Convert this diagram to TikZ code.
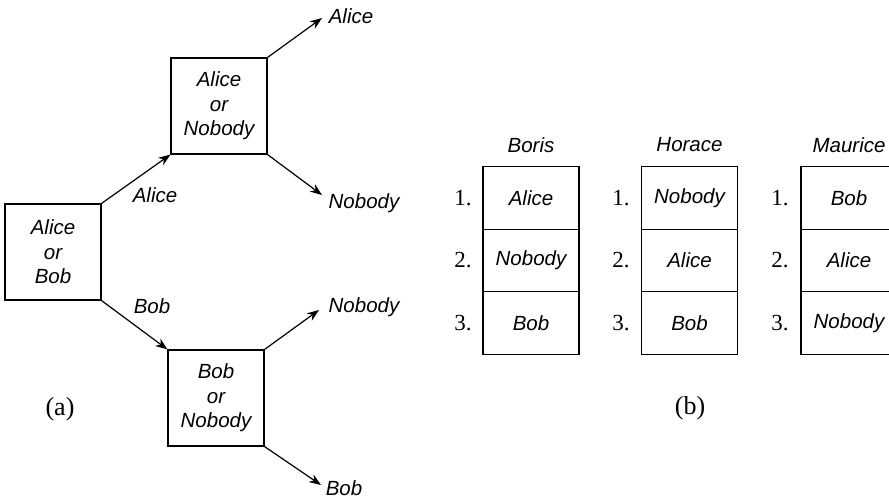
\documentclass[tikz,border=0pt]{standalone}
\usepackage{fontspec}
\setmainfont{Liberation Serif}
\newfontfamily\hand{Liberation Sans}
\usetikzlibrary{arrows.meta}
\begin{document}
\begin{tikzpicture}[x=1pt,y=-1pt,
  handfont/.style={font=\hand\itshape\fontsize{20.5}{24.5}\selectfont},
  box/.style={draw,line width=1.2pt,minimum width=96pt,minimum height=96pt,inner sep=0pt,align=center,handfont},
  cell/.style={draw,line width=1.2pt,minimum width=96pt,minimum height=62.5pt,inner sep=0pt,handfont},
  lbl/.style={inner sep=0pt,handfont},
  num/.style={inner sep=0pt,font=\fontsize{23}{26}\selectfont},
  captext/.style={inner sep=0pt,font=\fontsize{26}{30}\selectfont},
  arr/.style={line width=1.2pt,-{Stealth[length=12pt,width=9pt]}}]
\useasboundingbox (0,0) rectangle (889,499);

% (a)
\node[box] (A) at (53,252) {Alice\\or\\Bob};
\node[box] (B) at (219,106) {Alice\\or\\Nobody};
\node[box] (C) at (216,398) {Bob\\or\\Nobody};

\coordinate (bt) at (322,18);
\coordinate (bb) at (322,195);
\coordinate (ct) at (319,310);
\coordinate (cb) at (321,485);

\draw[arr] (A.north east) -- (B.south west);
\draw[arr] (A.south east) -- (C.north west);
\draw[arr] (B.north east) -- (bt);
\draw[arr] (B.south east) -- (bb);
\draw[arr] (C.north east) -- (ct);
\draw[arr] (C.south east) -- (cb);

\node[lbl] (lab1) at (155,195) {Alice};
\node[lbl] (lab2) at (152,306) {Bob};
\node[lbl] (lbt) at (351,16) {Alice};
\node[lbl] (lbb) at (364,203) {Nobody};
\node[lbl] (lct) at (364,307) {Nobody};
\node[lbl] (lcb) at (344,488) {Bob};

\node[captext] (capa) at (60,409) {(a)};

% (b)
\node[lbl] (hb) at (531,145) {Boris};
\node[lbl] (hh) at (689.5,145) {Horace};
\node[lbl] (hm) at (849,145) {Maurice};

\node[cell] (b1) at (531,198) {Alice};
\node[cell] (b2) at (531,260.5) {Nobody};
\node[cell] (b3) at (531,323) {Bob};

\node[cell] (h1) at (689.5,198) {Nobody};
\node[cell] (h2) at (689.5,260.5) {Alice};
\node[cell] (h3) at (689.5,323) {Bob};

\node[cell] (m1) at (849,198) {Bob};
\node[cell] (m2) at (849,260.5) {Alice};
\node[cell] (m3) at (849,323) {Nobody};

\foreach \x/\p in {463/b,621/h,780/m}{
  \node[num] (\p n1) at (\x,198) {1.};
  \node[num] (\p n2) at (\x,260.5) {2.};
  \node[num] (\p n3) at (\x,323) {3.};
}

\node[captext] (capb) at (690,408) {(b)};
\end{tikzpicture}
\end{document}
